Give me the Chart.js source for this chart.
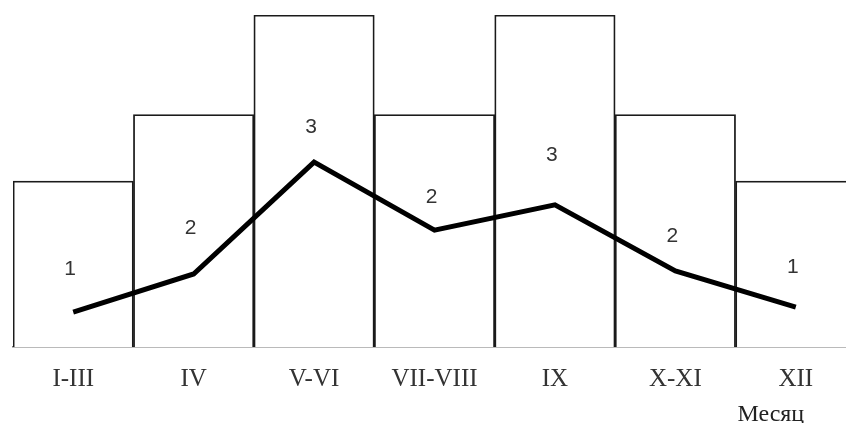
<!DOCTYPE html>
<html>
<head>
<meta charset="utf-8">
<script src="https://cdn.jsdelivr.net/npm/chart.js@4.4.1/dist/chart.umd.min.js"></script>
<style>
  html, body { margin: 0; padding: 0; background: #fff; overflow: hidden; }
  #wrap { width: 846px; height: 423px; overflow: hidden; }
</style>
</head>
<body>
<div id="wrap"><canvas id="chart" width="860" height="423"></canvas></div>
<script>
// months (x axis)
const months = ["I-III", "IV", "V-VI", "VII-VIII", "IX", "X-XI", "XII"];
// bar heights
const barValues = [5, 7, 10, 7, 10, 7, 5];
// polyline
const lineValues = [1.05, 2.2, 5.57, 3.52, 4.28, 2.29, 1.2];
// numbers written inside bars and where they sit (in y units)
const markText = ["1", "2", "3", "2", "3", "2", "1"];
const markY = [2.35, 3.58, 6.63, 4.52, 5.78, 3.34, 2.41];
const axisTitle = "Месяц";

const marksPlugin = {
  id: "marks",
  afterDatasetsDraw(chart) {
    const ctx = chart.ctx;
    const x = chart.scales.x, y = chart.scales.y;
    ctx.save();
    ctx.fillStyle = "#333";
    ctx.font = "21px 'Liberation Sans', Arial, sans-serif";
    ctx.textAlign = "center";
    ctx.textBaseline = "middle";
    markText.forEach((t, i) => {
      ctx.fillText(t, x.getPixelForValue(i) - 3, y.getPixelForValue(markY[i]));
    });
    // axis title under the last tick
    ctx.font = "24px 'Liberation Serif', 'Times New Roman', serif";
    ctx.fillStyle = "#222";
    ctx.textBaseline = "alphabetic";
    ctx.fillText(axisTitle, x.getPixelForValue(months.length - 1) - 25, 421);
    ctx.restore();
  }
};

const ctx = document.getElementById("chart").getContext("2d");
const chart = new Chart(ctx, {
  data: {
    labels: months,
    datasets: [
      {
        type: "line",
        data: lineValues,
        borderColor: "#000",
        borderWidth: 5,
        pointRadius: 0,
        tension: 0,
        order: 0,
      },
      {
        type: "bar",
        data: barValues,
        backgroundColor: "#fff",
        borderColor: "#1a1a1a",
        borderWidth: 1.8,
        borderSkipped: "bottom",
        barPercentage: 1,
        categoryPercentage: 1,
        order: 1,
      },
    ],
  },
  options: {
    responsive: false,
    animation: false,
    layout: { padding: { top: 15, left: 13, right: 4, bottom: 0 } },
    plugins: { legend: { display: false }, tooltip: { enabled: false } },
    scales: {
      x: {
        grid: { display: false },
        border: { display: true, color: "#777", width: 1.5 },
        ticks: {
          color: "#333",
          padding: 9,
          font: { family: "'Liberation Serif', 'Times New Roman', serif", size: 25 },
        },
        afterFit(scale) { scale.height = 76; },
      },
      y: { display: false, min: 0, max: 10 },
    },
  },
  plugins: [marksPlugin],
});
</script>
</body>
</html>
